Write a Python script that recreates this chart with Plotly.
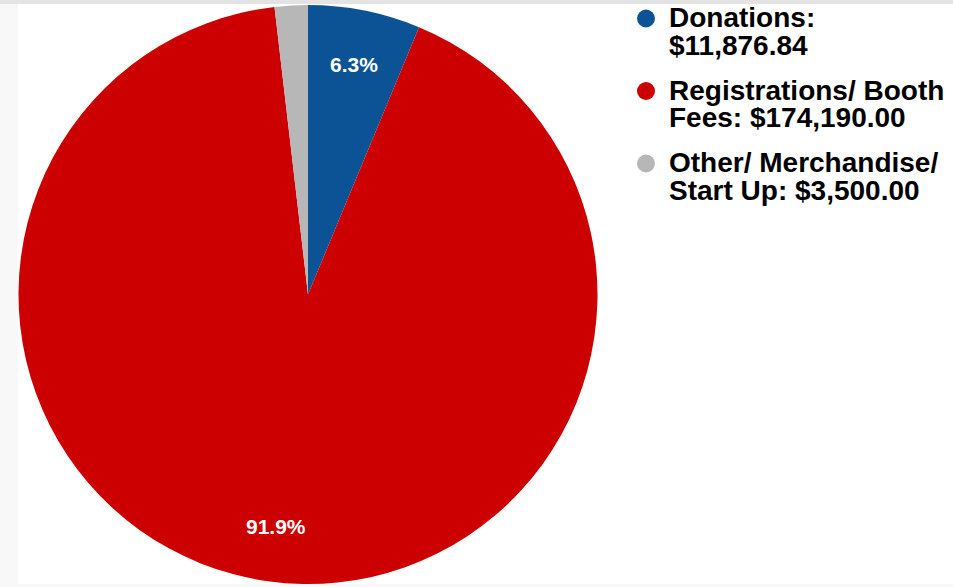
import math
import plotly.graph_objects as go

labels = ["Donations", "Registrations/ Booth Fees", "Other/ Merchandise/ Start Up"]
values = [11876.84, 174190.00, 3500.00]
colors = ["#0b5394", "#cc0000", "#b7b7b7"]
legend_lines = [
    ["Donations:", "$11,876.84"],
    ["Registrations/ Booth", "Fees: $174,190.00"],
    ["Other/ Merchandise/", "Start Up: $3,500.00"],
]

W, H = 953, 587
CX, CY, R = 308, 294.5, 289.5
FONT = "Liberation Sans, Arial, sans-serif"

fig = go.Figure()
fig.add_trace(go.Pie(
    labels=labels, values=values, sort=False, direction="clockwise", rotation=0,
    marker=dict(colors=colors, line=dict(width=0)),
    textinfo="none", hoverinfo="label+value+percent", showlegend=False,
    domain=dict(x=[(CX - R) / W, (CX + R) / W], y=[1 - (CY + R) / H, 1 - (CY - R) / H]),
))

# background frame (light grey surround like the screenshot)
shapes = [
    dict(type="rect", xref="paper", yref="paper", x0=18 / W, x1=1, y0=1 - 584 / H, y1=1 - 4 / H,
         fillcolor="white", line=dict(width=0), layer="below"),
    dict(type="rect", xref="paper", yref="paper", x0=0, x1=1, y0=1 - 4 / H, y1=1,
         fillcolor="#e3e3e3", line=dict(width=0), layer="below"),
]
annotations = []

# percentage labels computed from data
total = sum(values)
cum = 0.0
for v in values:
    frac = v / total
    mid = (cum + frac / 2) * 2 * math.pi
    cum += frac
    if frac < 0.05:
        continue
    rl = 0.81 * R
    px = CX + rl * math.sin(mid)
    py = CY - rl * math.cos(mid)
    annotations.append(dict(
        x=px / W, y=1 - py / H, xref="paper", yref="paper", showarrow=False,
        text=f"{frac * 100:.1f}%", font=dict(family=FONT, size=21, color="white", weight="bold"),
        xanchor="center", yanchor="middle",
    ))

# legend
for i, (lines, col) in enumerate(zip(legend_lines, colors)):
    y0 = 17 + 72.5 * i
    cy = y0 + 1.5
    shapes.append(dict(type="circle", xref="paper", yref="paper",
                       x0=(646 - 9) / W, x1=(646 + 9) / W, y0=1 - (cy + 9) / H, y1=1 - (cy - 9) / H,
                       fillcolor=col, line=dict(width=0)))
    for j, ln in enumerate(lines):
        yy = y0 + 28 * j + 0.5
        annotations.append(dict(
            x=667 / W, y=1 - yy / H, xref="paper", yref="paper", showarrow=False,
            text=ln, font=dict(family=FONT, size=28, color="#000000", weight="bold"),
            xanchor="left", yanchor="middle",
        ))

fig.update_layout(
    width=W, height=H, margin=dict(l=0, r=0, t=0, b=0),
    paper_bgcolor="#f8f8f8", plot_bgcolor="white",
    shapes=shapes, annotations=annotations,
)
fig.write_html("out.html")
